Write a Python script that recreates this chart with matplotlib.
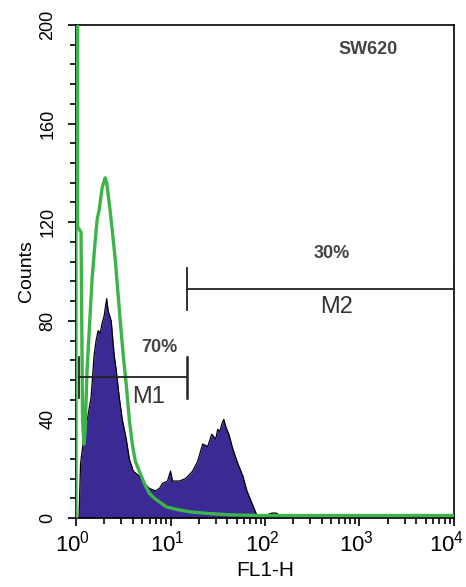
import numpy as np
import matplotlib
matplotlib.use('Agg')
import matplotlib.pyplot as plt
from matplotlib.ticker import LogLocator, MultipleLocator, NullFormatter
from matplotlib.transforms import blended_transform_factory, ScaledTranslation

plt.rcParams['font.family'] = ['Liberation Sans', 'DejaVu Sans']
plt.rcParams['mathtext.default'] = 'regular'

# stained sample (filled purple histogram), FL1-H channel value vs counts
stain_fl1 = [1.00, 1.076, 1.117, 1.187, 1.277, 1.444, 1.554, 1.632, 1.714, 1.80,
             1.891, 1.986, 2.111, 2.19, 2.357, 2.536, 2.664, 2.867, 3.086, 3.403,
             3.663, 4.041, 4.68, 5.29, 5.979, 6.925, 7.638, 8.221, 9.292, 10.0,
             10.5, 12.47, 14.44, 17.14, 19.38, 21.9, 24.76, 27.31, 30.11, 31.62,
             33.21, 34.88, 36.63, 38.47, 41.4, 45.66, 51.62, 58.34, 64.34, 71.0,
             78.29, 82.2, 100.0, 118.7, 130.9, 144.4, 184.5, 10000.0]
stain_counts = [0, 0, 22, 30, 37, 49, 66, 72, 76, 75,
                79, 82, 89, 84, 80, 66, 60, 49, 40, 32,
                24, 19, 17, 14, 12, 11, 12, 14, 15, 19,
                15, 15, 16, 19, 23, 30, 29, 34, 32, 36,
                35, 38, 40, 37, 34, 28, 22, 17, 11, 7,
                3, 1, 1, 2, 2, 1, 0, 0]

# control (green outline histogram)
ctrl_fl1 = [1.00, 1.00, 1.04, 1.04, 1.13, 1.173, 1.216, 1.247, 1.309, 1.375,
            1.48, 1.593, 1.673, 1.757, 1.891, 2.035, 2.111, 2.244, 2.415, 2.60,
            2.731, 2.938, 3.162, 3.403, 3.663, 3.942, 4.243, 4.68, 5.29, 5.979,
            6.757, 7.638, 9.067, 11.58, 15.93, 26.0, 42.4, 88.5, 10000.0]
ctrl_counts = [0, 260, 260, 118, 116, 40, 30, 35, 60, 75,
               97, 112, 121, 125, 134, 138, 136, 128, 117, 105,
               95, 80, 66, 54, 40, 30, 23, 19, 14, 10,
               8, 6.5, 4.5, 3.5, 2.5, 1.8, 1.3, 1, 1]

# marker gates: (start, end, level)
m1_gate = (1.076, 14.8, 57)
m2_gate = (14.9, 10000, 93)
m1_pct, m2_pct = '70%', '30%'
sample_name = 'SW620'
x_decades = [1, 10, 100, 1000, 10000]

purple = '#3b2a94'
green = '#3cb44a'

fig = plt.figure(figsize=(4.66, 5.87), dpi=100)
ax = fig.add_axes([76 / 466, 1 - 518 / 587, 378 / 466, 493 / 587])

ax.fill_between(stain_fl1, stain_counts, 0, color=purple, lw=0, zorder=1)
ax.plot(stain_fl1, stain_counts, color='black', lw=0.9, zorder=2)
ax.plot(ctrl_fl1, ctrl_counts, color=green, lw=2.4, zorder=3)

# gate markers
for x0, x1, lvl in (m1_gate, m2_gate):
    ax.plot([x0, x1], [lvl, lvl], color='#222222', lw=1.3, zorder=4)
    ax.plot([x0, x0], [lvl - 8.5, lvl + 8.5], color='#222222', lw=1.3, zorder=4)
    ax.plot([x1, x1], [lvl - 8.5, lvl + 8.5], color='#222222', lw=1.8, zorder=4)

ax.text(7.6, 69, m1_pct, ha='center', va='center', fontsize=13,
        fontweight='bold', color='#444444')
ax.text(5.8, 49, 'M1', ha='center', va='center', fontsize=17, color='#333333')
ax.text(512, 107.5, m2_pct, ha='center', va='center', fontsize=13,
        fontweight='bold', color='#444444')
ax.text(565, 85.6, 'M2', ha='center', va='center', fontsize=17, color='#333333')
ax.text(1247, 190, sample_name, ha='center', va='center', fontsize=13,
        fontweight='bold', color='#444444')

ax.set_xscale('log')
ax.set_xlim(1, 1e4)
ax.set_ylim(0, 200)
ax.xaxis.set_major_locator(LogLocator(base=10, numticks=10))
ax.xaxis.set_minor_locator(LogLocator(base=10, subs=np.arange(2, 10), numticks=50))
ax.xaxis.set_major_formatter(NullFormatter())
ax.yaxis.set_major_locator(MultipleLocator(40))
ax.yaxis.set_minor_locator(MultipleLocator(8))

ax.tick_params(axis='both', which='major', direction='out', length=6, width=1.2)
ax.tick_params(axis='both', which='minor', direction='out', length=4.5, width=1.2)
ax.tick_params(axis='y', which='major', labelsize=13, pad=8)
for lab in ax.get_yticklabels():
    lab.set_rotation(90)
    lab.set_va('center')

# x tick labels drawn by hand so the last one stays inside the figure
trans = blended_transform_factory(ax.transData, ax.transAxes)
for i, d in enumerate(x_decades):
    shift = -7 / 100 if d == x_decades[-1] else -3 / 100
    t = trans + ScaledTranslation(shift, -13 / 100, fig.dpi_scale_trans)
    ax.text(d, 0, r'$10^{%d}$' % i, transform=t, ha='center', va='top',
            fontsize=16)

for sp in ax.spines.values():
    sp.set_linewidth(1.2)

ax.set_xlabel('FL1-H', fontsize=15)
ax.xaxis.set_label_coords(0.5, -0.087)
ax.set_ylabel('Counts', fontsize=14, labelpad=3)

fig.savefig('out.png', dpi=100)
